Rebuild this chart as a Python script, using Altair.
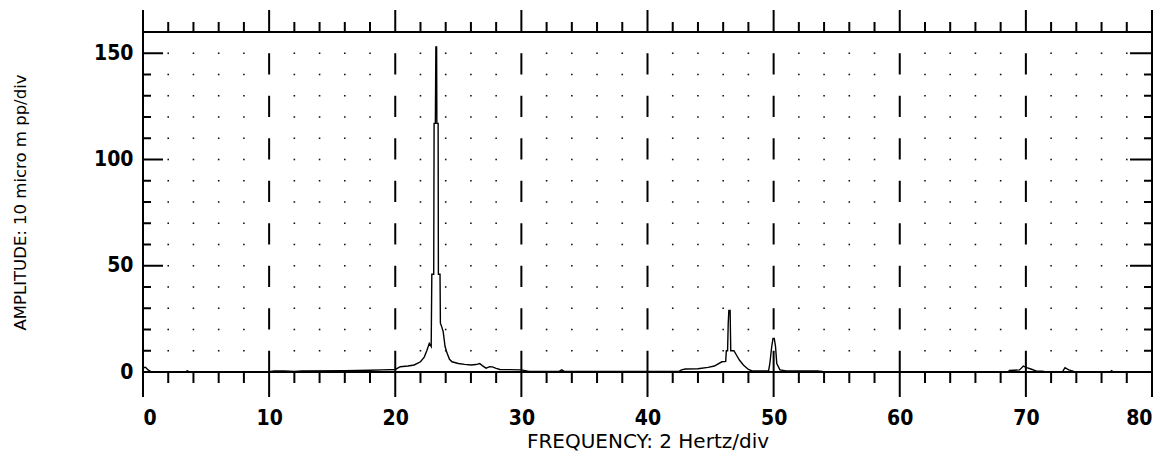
import altair as alt
import pandas as pd

# Spectrum (frequency in Hz, amplitude in 10 micro m pp/div units)
freq = [0.0, 0.2, 0.4, 0.6, 1.0, 3.4, 3.5, 3.7, 10.0, 10.4, 11.2, 12.0, 12.6, 16.0, 18.0, 19.0,
        20.0, 20.4, 21.0, 21.5, 22.0, 22.3, 22.5, 22.7, 22.85, 22.9, 23.05, 23.08, 23.18, 23.22,
        23.28, 23.3, 23.4, 23.42, 23.55, 23.58, 23.7, 23.8, 23.95, 24.1, 24.3, 24.5, 25.0, 25.5,
        26.0, 26.4, 26.7, 26.9, 27.2, 27.5, 27.7, 28.0, 28.3, 30.0, 30.6, 33.0, 33.2, 33.4, 42.5,
        42.7, 43.0, 44.0, 44.8, 45.3, 45.9, 46.2, 46.25, 46.35, 46.4, 46.45, 46.55, 46.6, 46.85,
        47.05, 47.3, 47.6, 48.0, 48.3, 49.6, 49.7, 49.85, 49.95, 50.05, 50.15, 50.25, 50.5, 51.0,
        53.5, 54.0, 68.6, 68.7, 69.5, 69.8, 70.07, 70.45, 70.85, 71.3, 71.5, 72.9, 73.1, 73.4,
        73.8, 74.0, 76.7, 76.8, 76.9, 80.0]
amp = [2.0, 2.2, 1.0, 0.3, 0.1, 0.1, 0.6, 0.1, 0.1, 0.5, 0.5, 0.3, 0.5, 0.6, 0.8, 1.0,
       1.2, 2.5, 2.8, 3.3, 4.8, 7.0, 10.0, 13.5, 12.0, 46.0, 46.0, 117.0, 117.0, 153.0,
       153.0, 117.0, 117.0, 46.0, 46.0, 23.0, 21.0, 19.0, 12.0, 9.0, 6.0, 4.8, 4.0, 3.6,
       3.3, 3.5, 4.0, 3.0, 1.8, 2.5, 2.4, 1.7, 1.2, 1.0, 0.3, 0.3, 1.0, 0.3, 0.3,
       1.0, 1.4, 1.5, 2.2, 2.8, 4.8, 5.0, 10.0, 10.0, 22.8, 29.0, 29.0, 10.0, 10.0,
       8.0, 5.5, 3.3, 1.2, 0.5, 0.5, 4.0, 12.0, 15.8, 15.8, 12.0, 4.0, 1.0, 0.5,
       0.5, 0.1, 0.1, 0.7, 1.0, 2.8, 2.1, 1.3, 0.4, 0.4, 0.1, 0.1, 2.0, 1.0,
       0.3, 0.1, 0.1, 0.6, 0.1, 0.1]

x_labels = [0, 10, 20, 30, 40, 50, 60, 70, 80]
x_dashed = [10, 20, 30, 40, 50, 60, 70]
x_minor = [v for v in range(0, 81, 2) if v % 10 != 0]
y_labels = [0, 50, 100, 150]
y_minor = [v for v in range(10, 151, 10) if v % 50 != 0]
y_dots = list(range(10, 151, 10))
x_edges = [0, 80]

W, H = 1009, 340
FONT_LBL = "DejaVu Sans Condensed"
FONT_TTL = "DejaVu Sans"

xs = alt.Scale(domain=[0, 80], nice=False, zero=False)
ys = alt.Scale(domain=[0, 160], nice=False, zero=False)

spec_df = pd.DataFrame({"f": freq, "a": amp})
dots_df = pd.DataFrame([{"x": x, "y": y} for x in x_minor for y in y_dots])
major_df = pd.DataFrame({"x": x_labels})
dashed_df = pd.DataFrame({"x": x_dashed})
minor_df = pd.DataFrame({"x": x_minor})
ymaj_df = pd.DataFrame({"y": [50, 100, 150]})
ymin_df = pd.DataFrame({"y": y_minor})
edge_df = pd.DataFrame({"x": x_edges})

x_axis = alt.Axis(values=x_labels, domain=False, ticks=False, grid=False,
                  labelFont=FONT_LBL, labelFontWeight="bold", labelFontSize=21,
                  labelColor="black", labelPadding=35,
                  title="FREQUENCY: 2 Hertz/div", titleFont=FONT_TTL, titleFontWeight="normal",
                  titleFontSize=20, titleColor="black", titleX=W / 2, titleY=75,
                  titleBaseline="alphabetic", titleAlign="center")
y_axis = alt.Axis(values=y_labels, domain=False, ticks=False, grid=False,
                  labelFont=FONT_LBL, labelFontWeight="bold", labelFontSize=21,
                  labelColor="black", labelPadding=10,
                  title="AMPLITUDE: 10 micro m pp/div", titleFont=FONT_TTL,
                  titleFontWeight="normal", titleFontSize=16.5, titleColor="black",
                  titleAngle=270, titleX=-118, titleY=H / 2, titleAlign="center",
                  titleBaseline="alphabetic")


def X(field):
    return alt.X(field, type="quantitative", scale=xs, axis=x_axis)


def Y(field):
    return alt.Y(field, type="quantitative", scale=ys, axis=y_axis)


line = alt.Chart(spec_df).mark_line(color="black", strokeWidth=1.4).encode(
    x=X("f"), y=Y("a"))

dots = alt.Chart(dots_df).mark_square(size=2.5, color="#111", opacity=1).encode(
    x=X("x"), y=Y("y"))

dashes = alt.Chart(dashed_df).mark_rule(color="black", strokeWidth=2,
                                         strokeDash=[21.25, 21.25]).encode(
    x=X("x"),
    y=alt.YDatum(150, scale=ys, axis=y_axis),
    y2=alt.datum(0),
)

# x ticks bottom/top
bot_major = alt.Chart(major_df).mark_rule(color="black", strokeWidth=2).encode(
    x=X("x"), y=alt.value(H), y2=alt.value(H + 25))
bot_minor = alt.Chart(minor_df).mark_rule(color="black", strokeWidth=2).encode(
    x=X("x"), y=alt.value(H), y2=alt.value(H + 11))
top_major = alt.Chart(major_df).mark_rule(color="black", strokeWidth=2).encode(
    x=X("x"), y=alt.value(0), y2=alt.value(-22))
top_minor = alt.Chart(minor_df).mark_rule(color="black", strokeWidth=2).encode(
    x=X("x"), y=alt.value(0), y2=alt.value(-10))

# vertical side lines
sides = alt.Chart(edge_df).mark_rule(color="black", strokeWidth=2).encode(
    x=X("x"), y=alt.value(-22), y2=alt.value(H + 25))

# horizontal frame lines
top_line = alt.Chart(edge_df).mark_rule(color="black", strokeWidth=2).encode(
    y=alt.YDatum(160, scale=ys, axis=y_axis), x=alt.value(0), x2=alt.value(W))
bot_line = alt.Chart(edge_df).mark_rule(color="black", strokeWidth=2).encode(
    y=alt.YDatum(0, scale=ys, axis=y_axis), x=alt.value(0), x2=alt.value(W))

# y ticks inside
l_major = alt.Chart(ymaj_df).mark_rule(color="black", strokeWidth=2).encode(
    y=Y("y"), x=alt.value(0), x2=alt.value(20))
l_minor = alt.Chart(ymin_df).mark_rule(color="black", strokeWidth=2).encode(
    y=Y("y"), x=alt.value(0), x2=alt.value(8))
r_major = alt.Chart(ymaj_df).mark_rule(color="black", strokeWidth=2).encode(
    y=Y("y"), x=alt.value(W), x2=alt.value(W - 22))
r_minor = alt.Chart(ymin_df).mark_rule(color="black", strokeWidth=2).encode(
    y=Y("y"), x=alt.value(W), x2=alt.value(W - 8))

chart = alt.layer(
    line, dots, dashes, bot_major, bot_minor, top_major, top_minor, sides,
    top_line, bot_line, l_major, l_minor, r_major, r_minor
).properties(
    width=W, height=H,
    autosize=alt.AutoSizeParams(type="none"),
    padding={"left": 143, "top": 32, "right": 20, "bottom": 91},
    background="white",
).configure_view(strokeWidth=0)

chart.save("out.html", embed_options={"renderer": "svg", "actions": False})
